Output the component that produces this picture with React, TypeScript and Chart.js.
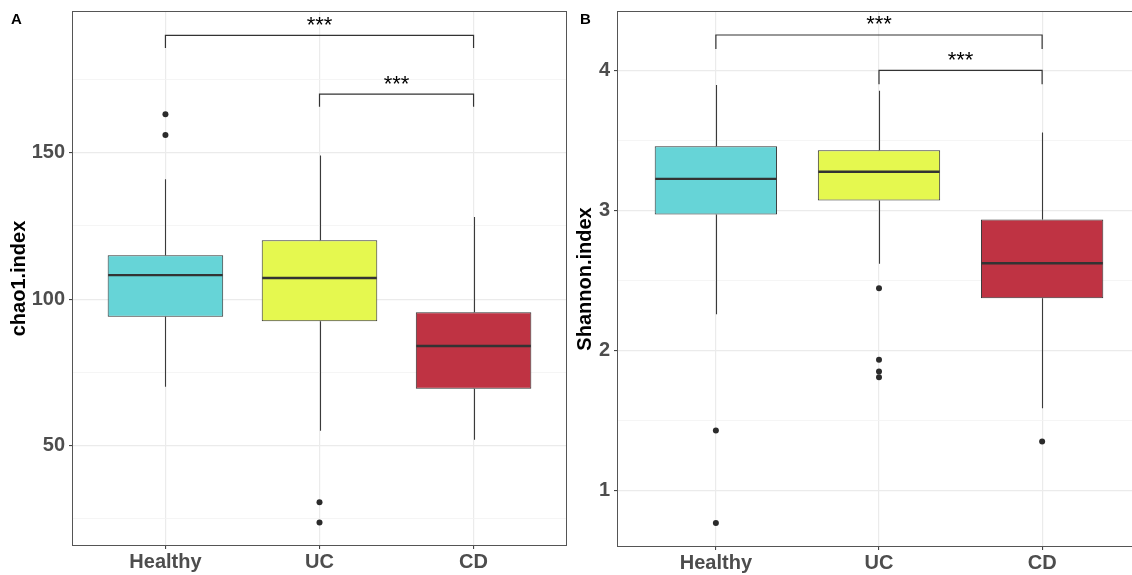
import React, { useEffect, useRef } from "react";
import { Chart, registerables } from "chart.js";
Chart.register(...registerables);

// ---------- data ----------
const categories = ["Healthy", "UC", "CD"];
const boxColors = ["#66D4D7", "#E5F84F", "#BF3343"];

// Panel A: chao1.index
const chaoQ1 = [94, 92.5, 69.4];
const chaoMedian = [108.2, 107.2, 84];
const chaoQ3 = [115, 120.1, 95.5];
const chaoWhiskerLow = [70.1, 55.1, 52];
const chaoWhiskerHigh = [140.9, 149, 128];
const chaoOutliers = [[163.1, 156.0], [30.7, 23.8], []];
const chaoMajorTicks = [50, 100, 150];
const chaoMinorTicks = [25, 75, 125, 175];
const chaoBracketFrom = [0, 1];
const chaoBracketTo = [2, 2];
const chaoBracketLevel = [190, 170];
const chaoBracketTip = [185.7, 165.7];
const chaoBracketLabel = ["***", "***"];

// Panel B: Shannon.index
const shanQ1 = [2.971, 3.071, 2.374];
const shanMedian = [3.226, 3.276, 2.624];
const shanQ3 = [3.459, 3.429, 2.936];
const shanWhiskerLow = [2.26, 2.621, 1.59];
const shanWhiskerHigh = [3.895, 3.854, 3.557];
const shanOutliers = [[1.431, 0.771], [2.445, 1.936, 1.852, 1.81], [1.352]];
const shanMajorTicks = [1, 2, 3, 4];
const shanMinorTicks = [1.5, 2.5, 3.5];
const shanBracketFrom = [0, 1];
const shanBracketTo = [2, 2];
const shanBracketLevel = [4.252, 4.0];
const shanBracketTip = [4.152, 3.9];
const shanBracketLabel = ["***", "***"];

const FONT = "'Liberation Sans', Arial, Helvetica, sans-serif";

type Panel = {
  letter: string;
  title: string;
  q1: number[];
  median: number[];
  q3: number[];
  wLow: number[];
  wHigh: number[];
  outliers: number[][];
  major: number[];
  minor: number[];
  yMin: number;
  yMax: number;
  bFrom: number[];
  bTo: number[];
  bLevel: number[];
  bTip: number[];
  bLabel: string[];
  yAxisWidth: number;
  xAxisHeight: number;
  padRight: number;
  titlePad: number;
  letterX: number;
};

const panelA: Panel = {
  letter: "A",
  title: "chao1.index",
  q1: chaoQ1,
  median: chaoMedian,
  q3: chaoQ3,
  wLow: chaoWhiskerLow,
  wHigh: chaoWhiskerHigh,
  outliers: chaoOutliers,
  major: chaoMajorTicks,
  minor: chaoMinorTicks,
  yMin: 16.1,
  yMax: 198,
  bFrom: chaoBracketFrom,
  bTo: chaoBracketTo,
  bLevel: chaoBracketLevel,
  bTip: chaoBracketTip,
  bLabel: chaoBracketLabel,
  yAxisWidth: 73,
  xAxisHeight: 30,
  padRight: 3,
  titlePad: 9,
  letterX: 11,
};

const panelB: Panel = {
  letter: "B",
  title: "Shannon.index",
  q1: shanQ1,
  median: shanMedian,
  q3: shanQ3,
  wLow: shanWhiskerLow,
  wHigh: shanWhiskerHigh,
  outliers: shanOutliers,
  major: shanMajorTicks,
  minor: shanMinorTicks,
  yMin: 0.607,
  yMax: 4.416,
  bFrom: shanBracketFrom,
  bTo: shanBracketTo,
  bLevel: shanBracketLevel,
  bTip: shanBracketTip,
  bLabel: shanBracketLabel,
  yAxisWidth: 48,
  xAxisHeight: 29,
  padRight: 5,
  titlePad: 5,
  letterX: 10,
};

function buildConfig(p: Panel): any {
  const boxData = categories.map((_, i) => ({ x: i + 1, y: [p.q1[i], p.q3[i]] }));
  const outlierData = p.outliers.flatMap((arr, i) => arr.map((v) => ({ x: i + 1, y: v })));
  const allTicks = [...p.major, ...p.minor].sort((a, b) => a - b);
  const isMajor = (v: number) => p.major.some((m) => Math.abs(m - v) < 1e-9);

  const decor = {
    id: "decor" + p.letter,
    beforeDatasetsDraw(chart: any) {
      const { ctx, chartArea: ca } = chart;
      const x = chart.scales.x;
      const y = chart.scales.y;
      ctx.save();
      ctx.beginPath();
      ctx.rect(ca.left, ca.top, ca.right - ca.left, ca.bottom - ca.top);
      ctx.clip();
      ctx.strokeStyle = "#3a3a3a";
      ctx.lineWidth = 1.1;
      categories.forEach((_, i) => {
        const px = Math.round(x.getPixelForValue(i + 1)) + 0.5;
        ctx.beginPath();
        ctx.moveTo(px, y.getPixelForValue(p.wLow[i]));
        ctx.lineTo(px, y.getPixelForValue(p.q1[i]));
        ctx.moveTo(px, y.getPixelForValue(p.q3[i]));
        ctx.lineTo(px, y.getPixelForValue(p.wHigh[i]));
        ctx.stroke();
      });
      ctx.restore();
    },
    afterDatasetsDraw(chart: any) {
      const { ctx } = chart;
      const y = chart.scales.y;
      const meta = chart.getDatasetMeta(0);
      ctx.save();
      ctx.strokeStyle = "#333333";
      ctx.lineWidth = 2.4;
      meta.data.forEach((el: any, i: number) => {
        const { x: cx, width } = el.getProps(["x", "width"], true);
        const py = y.getPixelForValue(p.median[i]);
        ctx.beginPath();
        ctx.moveTo(cx - width / 2 + 0.5, py);
        ctx.lineTo(cx + width / 2 - 0.5, py);
        ctx.stroke();
      });
      ctx.restore();
    },
    afterDraw(chart: any) {
      const { ctx, chartArea: ca } = chart;
      const x = chart.scales.x;
      const y = chart.scales.y;
      ctx.save();
      // significance brackets
      ctx.strokeStyle = "#333333";
      ctx.lineWidth = 1.2;
      ctx.fillStyle = "#000000";
      ctx.font = `22px ${FONT}`;
      ctx.textAlign = "center";
      ctx.textBaseline = "alphabetic";
      p.bLevel.forEach((lvl, k) => {
        const x1 = x.getPixelForValue(p.bFrom[k] + 1);
        const x2 = x.getPixelForValue(p.bTo[k] + 1);
        const yl = y.getPixelForValue(lvl);
        const yt = y.getPixelForValue(p.bTip[k]);
        ctx.beginPath();
        ctx.moveTo(x1, yt);
        ctx.lineTo(x1, yl);
        ctx.lineTo(x2, yl);
        ctx.lineTo(x2, yt);
        ctx.stroke();
        ctx.fillText(p.bLabel[k], (x1 + x2) / 2, yl - 3.5);
      });
      // panel border
      ctx.strokeStyle = "#555555";
      ctx.lineWidth = 1;
      ctx.strokeRect(
        Math.round(ca.left) - 0.5,
        Math.round(ca.top) - 0.5,
        Math.round(ca.right - ca.left) + 1,
        Math.round(ca.bottom - ca.top) + 1
      );
      // panel letter
      ctx.fillStyle = "#000000";
      ctx.font = `bold 15px ${FONT}`;
      ctx.textAlign = "left";
      ctx.fillText(p.letter, p.letterX, 24);
      ctx.restore();
    },
  };

  return {
    type: "bar",
    data: {
      datasets: [
        {
          type: "bar",
          data: boxData,
          backgroundColor: boxColors,
          borderColor: "#333333",
          borderWidth: 1,
          borderSkipped: false,
          categoryPercentage: 1,
          barPercentage: 0.75,
          order: 1,
        },
        {
          type: "scatter",
          data: outlierData,
          pointRadius: 3,
          pointBackgroundColor: "#2b2b2b",
          pointBorderWidth: 0,
          order: 0,
        },
      ],
    },
    options: {
      animation: false,
      responsive: false,
      maintainAspectRatio: false,
      events: [],
      layout: { padding: { top: 12, right: p.padRight, bottom: 0, left: 0 } },
      plugins: { legend: { display: false }, tooltip: { enabled: false } },
      scales: {
        x: {
          type: "linear",
          offset: false,
          min: 0.4,
          max: 3.6,
          afterBuildTicks: (s: any) => {
            s.ticks = categories.map((_, i) => ({ value: i + 1 }));
          },
          afterFit: (s: any) => {
            s.height = p.xAxisHeight;
            s.paddingLeft = 0;
            s.paddingRight = 0;
          },
          ticks: {
            callback: (v: number) => categories[Math.round(v) - 1] ?? "",
            font: { family: FONT, size: 20, weight: "bold" },
            color: "#4D4D4D",
            padding: 1,
            maxRotation: 0,
            autoSkip: false,
          },
          grid: {
            offset: false,
            color: "#EBEBEB",
            lineWidth: 1.2,
            tickColor: "#333333",
            tickLength: 4,
            tickWidth: 1,
          },
          border: { display: false },
        },
        y: {
          type: "linear",
          min: p.yMin,
          max: p.yMax,
          afterBuildTicks: (s: any) => {
            s.ticks = allTicks.map((v) => ({ value: v }));
          },
          afterFit: (s: any) => {
            s.width = p.yAxisWidth;
            s.paddingTop = 0;
            s.paddingBottom = 0;
          },
          ticks: {
            callback: (v: number) => (isMajor(v) ? String(v) : ""),
            font: { family: FONT, size: 20, weight: "bold" },
            color: "#4D4D4D",
            padding: 4,
            autoSkip: false,
          },
          grid: {
            color: (c: any) => (isMajor(c.tick.value) ? "#EBEBEB" : "#F3F3F3"),
            lineWidth: (c: any) => (isMajor(c.tick.value) ? 1.2 : 0.8),
            tickColor: (c: any) => (isMajor(c.tick.value) ? "#333333" : "rgba(0,0,0,0)"),
            tickLength: 4,
            tickWidth: 1,
          },
          border: { display: false },
          title: {
            display: true,
            text: p.title,
            color: "#000000",
            font: { family: FONT, size: 20, weight: "bold", lineHeight: 1 },
            padding: { top: p.titlePad, bottom: 0 },
          },
        },
      },
    },
    plugins: [decor],
  };
}

function BoxPanel({ panel, left, width }: { panel: Panel; left: number; width: number }) {
  const ref = useRef<HTMLCanvasElement | null>(null);
  useEffect(() => {
    if (!ref.current) return;
    const chart = new Chart(ref.current, buildConfig(panel));
    return () => chart.destroy();
  }, [panel]);
  return (
    <canvas
      ref={ref}
      width={width}
      height={575}
      style={{ position: "absolute", left, top: 0, width, height: 575, display: "block" }}
    />
  );
}

export default function App() {
  return (
    <div
      style={{
        position: "absolute",
        left: 0,
        top: 0,
        width: 1132,
        height: 575,
        overflow: "hidden",
        background: "#ffffff",
      }}
    >
      <BoxPanel panel={panelA} left={0} width={570} />
      <BoxPanel panel={panelB} left={570} width={575} />
    </div>
  );
}
